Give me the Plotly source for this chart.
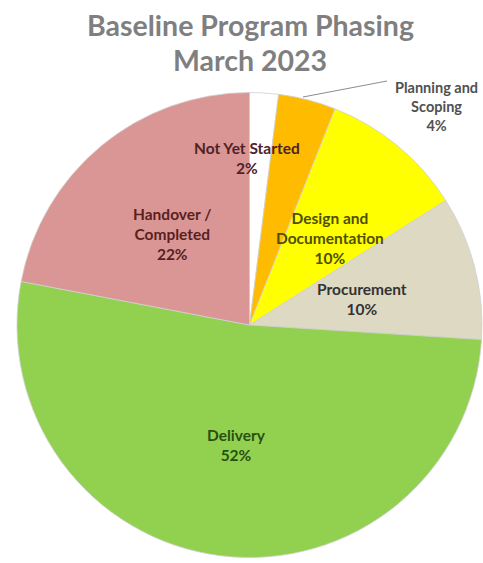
import plotly.graph_objects as go

# Program phase breakdown (percent of baseline program)
phases = ["Not Yet Started", "Planning and Scoping", "Design and Documentation",
          "Procurement", "Delivery", "Handover / Completed"]
shares = [2, 4, 10, 10, 52, 22]

# Label text (line breaks as shown in the chart)
label_text = ["Not Yet Started", "Planning and<br>Scoping", "Design and<br>Documentation",
              "Procurement", "Delivery", "Handover /<br>Completed"]

slice_colors = ["#ffffff", "#ffbb00", "#ffff00", "#ddd9c3", "#92d050", "#d99694"]
text_colors = ["#4f2226", "#505050", "#4f4f00", "#333333", "#285010", "#5a1f1f"]

W, H = 483, 563

# Label anchor positions in pixels (x, y from top)
label_px = [(247, 158), (436, 106), (330, 238), (362, 299), (236, 445), (172, 234)]
label_sizes = [15.5, 14.5, 15.5, 15.5, 15.5, 15.5]


def px(x, y):
    return x / W, 1 - y / H


fig = go.Figure(go.Pie(
    labels=phases,
    values=shares,
    sort=False,
    direction="clockwise",
    rotation=0,
    textinfo="none",
    hoverinfo="label+percent",
    marker=dict(colors=slice_colors, line=dict(color="#d0d0d0", width=0.8)),
    domain=dict(x=[17 / W, 482 / W], y=[1 - 558 / H, 1 - 92 / H]),
    showlegend=False,
))

annotations = []
for txt, val, col, (x, y), size in zip(label_text, shares, text_colors, label_px, label_sizes):
    ax, ay = px(x, y)
    annotations.append(dict(
        x=ax, y=ay, xref="paper", yref="paper",
        text=f"<b>{txt}<br>{val}%</b>",
        showarrow=False, align="center",
        xanchor="center", yanchor="middle",
        font=dict(family="Lato", size=size, color=col),
    ))

# Two-line title
for line, y in [("Baseline Program Phasing", 25), ("March 2023", 60)]:
    ax, ay = px(250, y)
    annotations.append(dict(
        x=ax, y=ay, xref="paper", yref="paper",
        text=f"<b>{line}</b>", showarrow=False,
        xanchor="center", yanchor="middle",
        font=dict(family="Lato", size=28.5, color="#7f7f7f"),
    ))

# Leader line from the small planning slice to its label
x0, y0 = px(303, 97)
x1, y1 = px(387, 81)
shapes = [dict(type="line", xref="paper", yref="paper", x0=x0, y0=y0, x1=x1, y1=y1,
               line=dict(color="#8c8c8c", width=1))]

fig.update_layout(
    width=W, height=H, autosize=False,
    margin=dict(l=0, r=0, t=0, b=0),
    paper_bgcolor="white", plot_bgcolor="white",
    annotations=annotations, shapes=shapes,
)

fig.write_html("out.html")
